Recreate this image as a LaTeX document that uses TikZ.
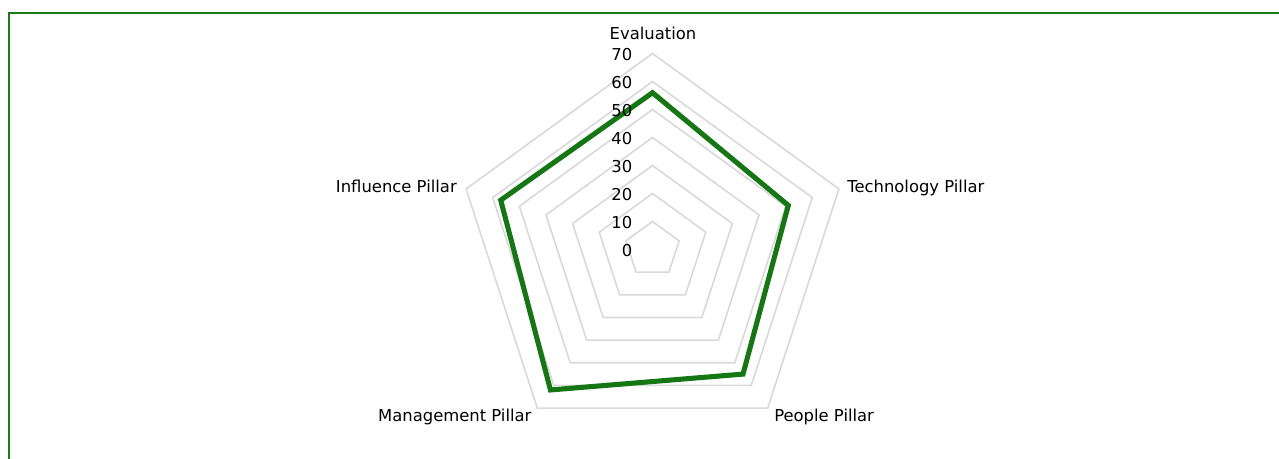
\documentclass[tikz,border=0pt]{standalone}
\usepackage{fontspec}
\setmainfont{DejaVu Sans}
\usepackage{xcolor}
\definecolor{frameGreen}{RGB}{28,122,24}
\definecolor{scoreGreen}{RGB}{22,118,20}
\definecolor{gridGray}{RGB}{217,217,217}

\begin{document}
\begin{tikzpicture}[x=0.75pt,y=0.75pt,yscale=-1,xscale=1,
    gridline/.style={draw=gridGray, line width=1.2pt, line join=miter},
    scoreline/.style={draw=scoreGreen, line width=3.8pt, line join=miter},
    pillarlabel/.style={inner sep=0.75pt, font=\fontsize{12.3}{14}\selectfont},
    valuelabel/.style={inner sep=0.75pt, anchor=east, font=\fontsize{12.3}{14}\selectfont}]
    \useasboundingbox (0,0) rectangle (1279,458);

    %Shape: Rectangle [frame]
    \draw [draw=frameGreen, line width=1.5pt] (8.5,12.5) rectangle (1290,470);

    \begin{scope}[shift={(652.5,249.5)}]
    %Shape: Polygon [level 10]
    \draw [gridline] (-90:28) -- (-18:28) -- (54:28) -- (126:28) -- (198:28) -- cycle;
    %Shape: Polygon [level 20]
    \draw [gridline] (-90:56) -- (-18:56) -- (54:56) -- (126:56) -- (198:56) -- cycle;
    %Shape: Polygon [level 30]
    \draw [gridline] (-90:84) -- (-18:84) -- (54:84) -- (126:84) -- (198:84) -- cycle;
    %Shape: Polygon [level 40]
    \draw [gridline] (-90:112) -- (-18:112) -- (54:112) -- (126:112) -- (198:112) -- cycle;
    %Shape: Polygon [level 50]
    \draw [gridline] (-90:140) -- (-18:140) -- (54:140) -- (126:140) -- (198:140) -- cycle;
    %Shape: Polygon [level 60]
    \draw [gridline] (-90:168) -- (-18:168) -- (54:168) -- (126:168) -- (198:168) -- cycle;
    %Shape: Polygon [level 70]
    \draw [gridline] (-90:196) -- (-18:196) -- (54:196) -- (126:196) -- (198:196) -- cycle;

    % Score points
    \coordinate (evalPt) at (-90:156.8);
    \coordinate (techPt) at (-18:142.8);
    \coordinate (peoplePt) at (54:154);
    \coordinate (mgmtPt) at (126:173.6);
    \coordinate (inflPt) at (198:159.6);
    %Shape: Polygon [score]
    \draw [scoreline] (evalPt) -- (techPt) -- (peoplePt) -- (mgmtPt) -- (inflPt) -- cycle;

    % Text Node
    \node [valuelabel] (val0) at (-19,1.5) {0};
    \node [valuelabel] (val10) at (-19,-26.5) {10};
    \node [valuelabel] (val20) at (-19,-54.5) {20};
    \node [valuelabel] (val30) at (-19,-82.5) {30};
    \node [valuelabel] (val40) at (-19,-110.5) {40};
    \node [valuelabel] (val50) at (-19,-138.5) {50};
    \node [valuelabel] (val60) at (-19,-166.5) {60};
    \node [valuelabel] (val70) at (-19,-194.5) {70};
    \end{scope}

    % Text Node
    \node [pillarlabel] (evaluation) at (653,33) {Evaluation};
    % Text Node
    \node [pillarlabel, anchor=west] (technology) at (846,188) {Technology Pillar};
    % Text Node
    \node [pillarlabel, anchor=west] (people) at (773,416.5) {People Pillar};
    % Text Node
    \node [pillarlabel, anchor=east] (management) at (532.7,416.5) {Management Pillar};
    % Text Node
    \node [pillarlabel, anchor=east] (influence) at (458,186.3) {Influence Pillar};

\end{tikzpicture}
\end{document}
